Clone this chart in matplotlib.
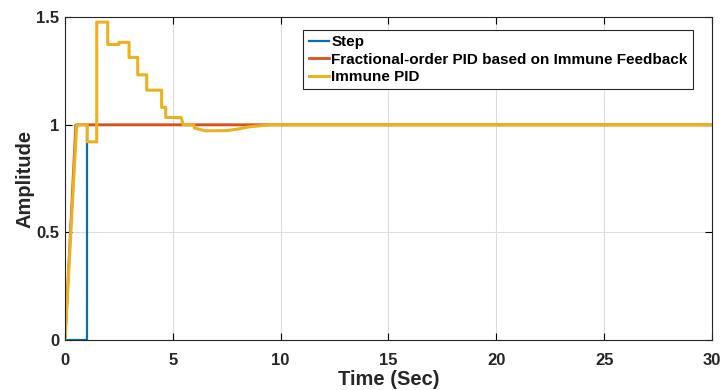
import matplotlib
matplotlib.use("Agg")
import matplotlib.pyplot as plt
from matplotlib import font_manager

names = {f.name for f in font_manager.fontManager.ttflist}
fam = ['Liberation Sans', 'DejaVu Sans']
fam = [f for f in fam if f in names] + ['DejaVu Sans']
plt.rcParams['font.family'] = fam
plt.rcParams['font.weight'] = 'bold'

# Data
step_t = [0, 1.0, 1.0, 30]
step_y = [0, 0, 1, 1]

fopid_t = [0, 0.5, 30]
fopid_y = [0, 1, 1]

ipid_t = [0, 0.54, 1.03, 1.03, 1.47, 1.47, 1.98, 1.98, 2.5, 2.5, 2.97, 2.97,
          3.37, 3.37, 3.79, 3.79, 4.48, 4.48, 4.67, 4.67, 5.38, 5.48, 5.98,
          6.0, 6.5, 7.5, 8.0, 8.5, 9.0, 9.5, 30]
ipid_y = [0, 1.0, 1.0, 0.921, 0.921, 1.477, 1.477, 1.373, 1.373, 1.383, 1.383, 1.313,
          1.313, 1.232, 1.232, 1.161, 1.161, 1.081, 1.081, 1.034, 1.034, 1.0, 1.0,
          0.985, 0.972, 0.973, 0.98, 0.99, 0.995, 1.0, 1.0]

labels = ['Step', 'Fractional-order PID based on Immune Feedback', 'Immune PID']
colors = ['#0072BD', '#D95319', '#EDB120']

fig = plt.figure(figsize=(7.25, 3.9), dpi=100)
ax = fig.add_axes([0.0897, 0.128, 0.8923, 0.828])

ax.plot(step_t, step_y, color=colors[0], lw=1.6, label=labels[0])
ax.plot(fopid_t, fopid_y, color=colors[1], lw=2.0, label=labels[1])
ax.plot(ipid_t, ipid_y, color=colors[2], lw=2.2, label=labels[2])

ax.set_xlim(0, 30)
ax.set_ylim(0, 1.5)
ax.set_xticks([0, 5, 10, 15, 20, 25, 30])
ax.set_yticks([0, 0.5, 1, 1.5])
ax.set_yticklabels(['0', '0.5', '1', '1.5'])
ax.grid(True, color='#dcdcdc', lw=0.8)
ax.set_axisbelow(True)
ax.tick_params(direction='in', top=True, right=True, labelsize=12, length=5, width=0.8)
ax.tick_params(axis='x', pad=9)
ax.tick_params(axis='y', pad=4)
for lbl in ax.get_xticklabels() + ax.get_yticklabels():
    lbl.set_fontweight('bold')
    lbl.set_color('#262626')
for s in ax.spines.values():
    s.set_linewidth(0.8)
    s.set_color('#262626')

ax.set_xlabel('Time (Sec)', fontsize=14.5, fontweight='bold', color='#262626', labelpad=2)
ax.set_ylabel('Amplitude', fontsize=14.5, fontweight='bold', color='#262626', labelpad=1)

leg = ax.legend(loc='upper right', bbox_to_anchor=(0.971, 0.96), borderaxespad=0,
                prop={'weight': 'bold', 'size': 11.0, 'family': fam},
                handlelength=1.35, handletextpad=0.15, borderpad=0.35,
                labelspacing=0.22, fancybox=False, framealpha=1, edgecolor='#262626')
leg.get_frame().set_linewidth(0.8)

fig.savefig('out.png', dpi=100)
